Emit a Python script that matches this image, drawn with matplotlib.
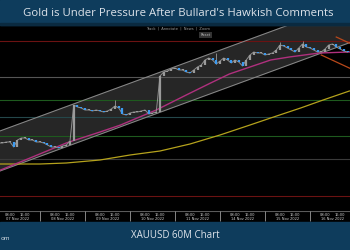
import numpy as np
import matplotlib
matplotlib.use('Agg')
import matplotlib.pyplot as plt
from matplotlib.patches import Rectangle

# 2-hour closes, XAUUSD (hours counted from 07 Nov 00:00, trading days only)
bar_hours = np.arange(2, 190, 2)
closes = [1676.4, 1676.4, 1677.6, 1677.6, 1671.6, 1680.0, 1682.4, 1682.4, 1680.0, 1680.0,
          1677.6, 1677.6, 1676.4, 1674.0, 1671.6, 1671.6, 1670.4, 1672.8, 1674.0, 1678.8,
          1722.0, 1719.6, 1718.4, 1716.0, 1716.0, 1714.8, 1716.0, 1714.8, 1713.6, 1714.8,
          1717.2, 1720.8, 1718.4, 1711.2, 1710.0, 1712.4, 1713.6, 1713.6, 1714.8, 1716.0,
          1711.2, 1712.4, 1713.6, 1756.8, 1761.6, 1762.8, 1765.2, 1766.4, 1764.0, 1764.0,
          1761.6, 1760.4, 1764.0, 1767.6, 1770.0, 1776.0, 1778.4, 1776.0, 1771.2, 1774.8,
          1778.4, 1776.0, 1772.4, 1776.0, 1773.6, 1768.8, 1776.0, 1782.0, 1785.6, 1784.4,
          1784.4, 1782.0, 1783.2, 1784.4, 1788.0, 1794.0, 1792.8, 1790.4, 1788.0, 1785.6,
          1790.4, 1795.2, 1791.6, 1790.4, 1788.0, 1785.6, 1785.6, 1789.2, 1794.0, 1795.2,
          1791.6, 1789.2, 1786.8, 1785.6]
spike_hours = [64, 118, 152, 164]
spike_highs = [1728.0, 1784.4, 1797.6, 1798.8]

# moving averages
ma_fast_h = [3, 20, 38, 56, 67, 86, 102, 115, 125, 136, 147, 157, 173, 189]
ma_fast = [1644.0, 1659.6, 1676.4, 1689.6, 1698.0, 1716.0, 1734.0, 1748.4, 1759.2,
           1767.6, 1776.0, 1779.6, 1784.4, 1785.6]
ma_slow_h = [3, 24, 38, 56, 72, 88, 104, 120, 136, 147, 163, 175, 189]
ma_slow = [1651.2, 1651.2, 1652.4, 1656.0, 1662.0, 1666.8, 1675.2, 1686.0, 1698.0,
           1706.4, 1718.4, 1728.0, 1738.8]

# channel and trend lines
channel_h = [0, 192]
channel_top = [1688.6, 1847.2]
channel_bottom = [1640.6, 1799.2]
orange1_h = [182, 192]
orange1 = [1803.6, 1793.2]
orange2_h = [174, 192]
orange2 = [1782.0, 1763.2]

# horizontal levels
levels = [1798.8, 1755.6, 1728.0, 1707.6, 1684.8, 1657.2, 1612.8]
level_colors = ['#6b1212', '#555555', '#1e5a1e', '#24474a', '#1e5a1e', '#3a3a3a', '#6b1212']

days = ['07 Nov 2022', '08 Nov 2022', '09 Nov 2022', '10 Nov 2022',
        '11 Nov 2022', '14 Nov 2022', '15 Nov 2022', '16 Nov 2022']

banner = '#0e3c5c'
xlim = (2.67, 189.33)

fig = plt.figure(figsize=(3.5, 2.5), dpi=100)
fig.patch.set_facecolor('black')
fig.patches.append(Rectangle((0, 0.9), 1, 0.1, transform=fig.transFigure,
                             color=banner, zorder=0))
fig.patches.append(Rectangle((0, 0.9), 1, 0.008, transform=fig.transFigure,
                             color='#0a2a40', zorder=0))
fig.patches.append(Rectangle((0, 0), 1, 0.112, transform=fig.transFigure,
                             color=banner, zorder=0))

ax = fig.add_axes([0, 0.156, 1, 0.744])
ax.set_facecolor('black')
ax.set_xlim(*xlim)
ax.set_ylim(1594.8, 1818)
ax.axis('off')

for lv, c in zip(levels, level_colors):
    ax.axhline(lv, color=c, lw=0.8, zorder=1)

ax.fill_between(channel_h, channel_bottom, channel_top, color='#262626', zorder=0.5)
ax.plot(channel_h, channel_top, color='#8a8a8a', lw=0.7, zorder=2)
ax.plot(channel_h, channel_bottom, color='#8a8a8a', lw=0.7, zorder=2)

ax.plot(ma_slow_h, ma_slow, color='#b5a21c', lw=0.9, zorder=3)
ax.plot(ma_fast_h, ma_fast, color='#b0307e', lw=1.0, zorder=3)
ax.plot(orange1_h, orange1, color='#b8481a', lw=0.9, zorder=3)
ax.plot(orange2_h, orange2, color='#b8481a', lw=0.9, zorder=3)

# candles: open = previous close
opens = [closes[0]] + closes[:-1]
ax.plot(bar_hours, closes, color='#8f8f8f', lw=0.7, zorder=4)
for h, o, c in zip(bar_hours, opens, closes):
    col = '#3d9bf0' if c < o else '#9a9a9a'
    lo, hi = min(o, c), max(o, c)
    if hi - lo < 1.2:
        hi = lo + 1.2
    ax.vlines(h, lo, hi, color=col, lw=1.6, zorder=5)
for h, hi in zip(spike_hours, spike_highs):
    idx = list(bar_hours).index(h)
    ax.vlines(h, closes[idx], hi, color='#9a9a9a', lw=0.6, zorder=4)

# date axis
dax = fig.add_axes([0, 0.112, 1, 0.044])
dax.set_facecolor('black')
dax.set_xlim(*xlim)
dax.set_ylim(0, 1)
dax.axis('off')
dax.axhline(1, color='#5a5a5a', lw=0.8)
for i, d in enumerate(days):
    dax.vlines(24 * (i + 1), 0.1, 1, color='#9a9a9a', lw=0.6)
    dax.text(24 * i + 8, 0.68, '08:00', color='#cfcfcf', fontsize=2.6, ha='center', va='center')
    dax.text(24 * i + 16, 0.68, '16:00', color='#cfcfcf', fontsize=2.6, ha='center', va='center')
    dax.text(24 * i + 12, 0.3, d, color='#cfcfcf', fontsize=2.6, ha='center', va='center')

# toolbar
fig.text(178 / 350, 1 - 29 / 250, 'Track  |  Annotate  |  News  |  Zoom', color='#9a9a9a',
         fontsize=2.6, ha='center', va='center')
fig.text(205.5 / 350, 1 - 35 / 250, 'Reset', color='#bbbbbb', fontsize=2.6, ha='center',
         va='center', bbox=dict(boxstyle='square,pad=0.4', fc='#333333', ec='none'))

fig.text(178 / 350, 1 - 13 / 250, "Gold is Under Pressure After Bullard's Hawkish Comments",
         color='#dde3ea', fontsize=8.2, family='Open Sans', ha='center', va='center')
fig.text(175 / 350, 1 - 236 / 250, 'XAUUSD 60M Chart', color='#dde3ea', fontsize=7.0,
         family='Open Sans', ha='center', va='center')
fig.text(0.5 / 350, 1 - 238 / 250, 'om', color='#dde3ea', fontsize=4.5,
         family='Open Sans', ha='left', va='center')

fig.savefig('out.png', dpi=100, facecolor='black')
